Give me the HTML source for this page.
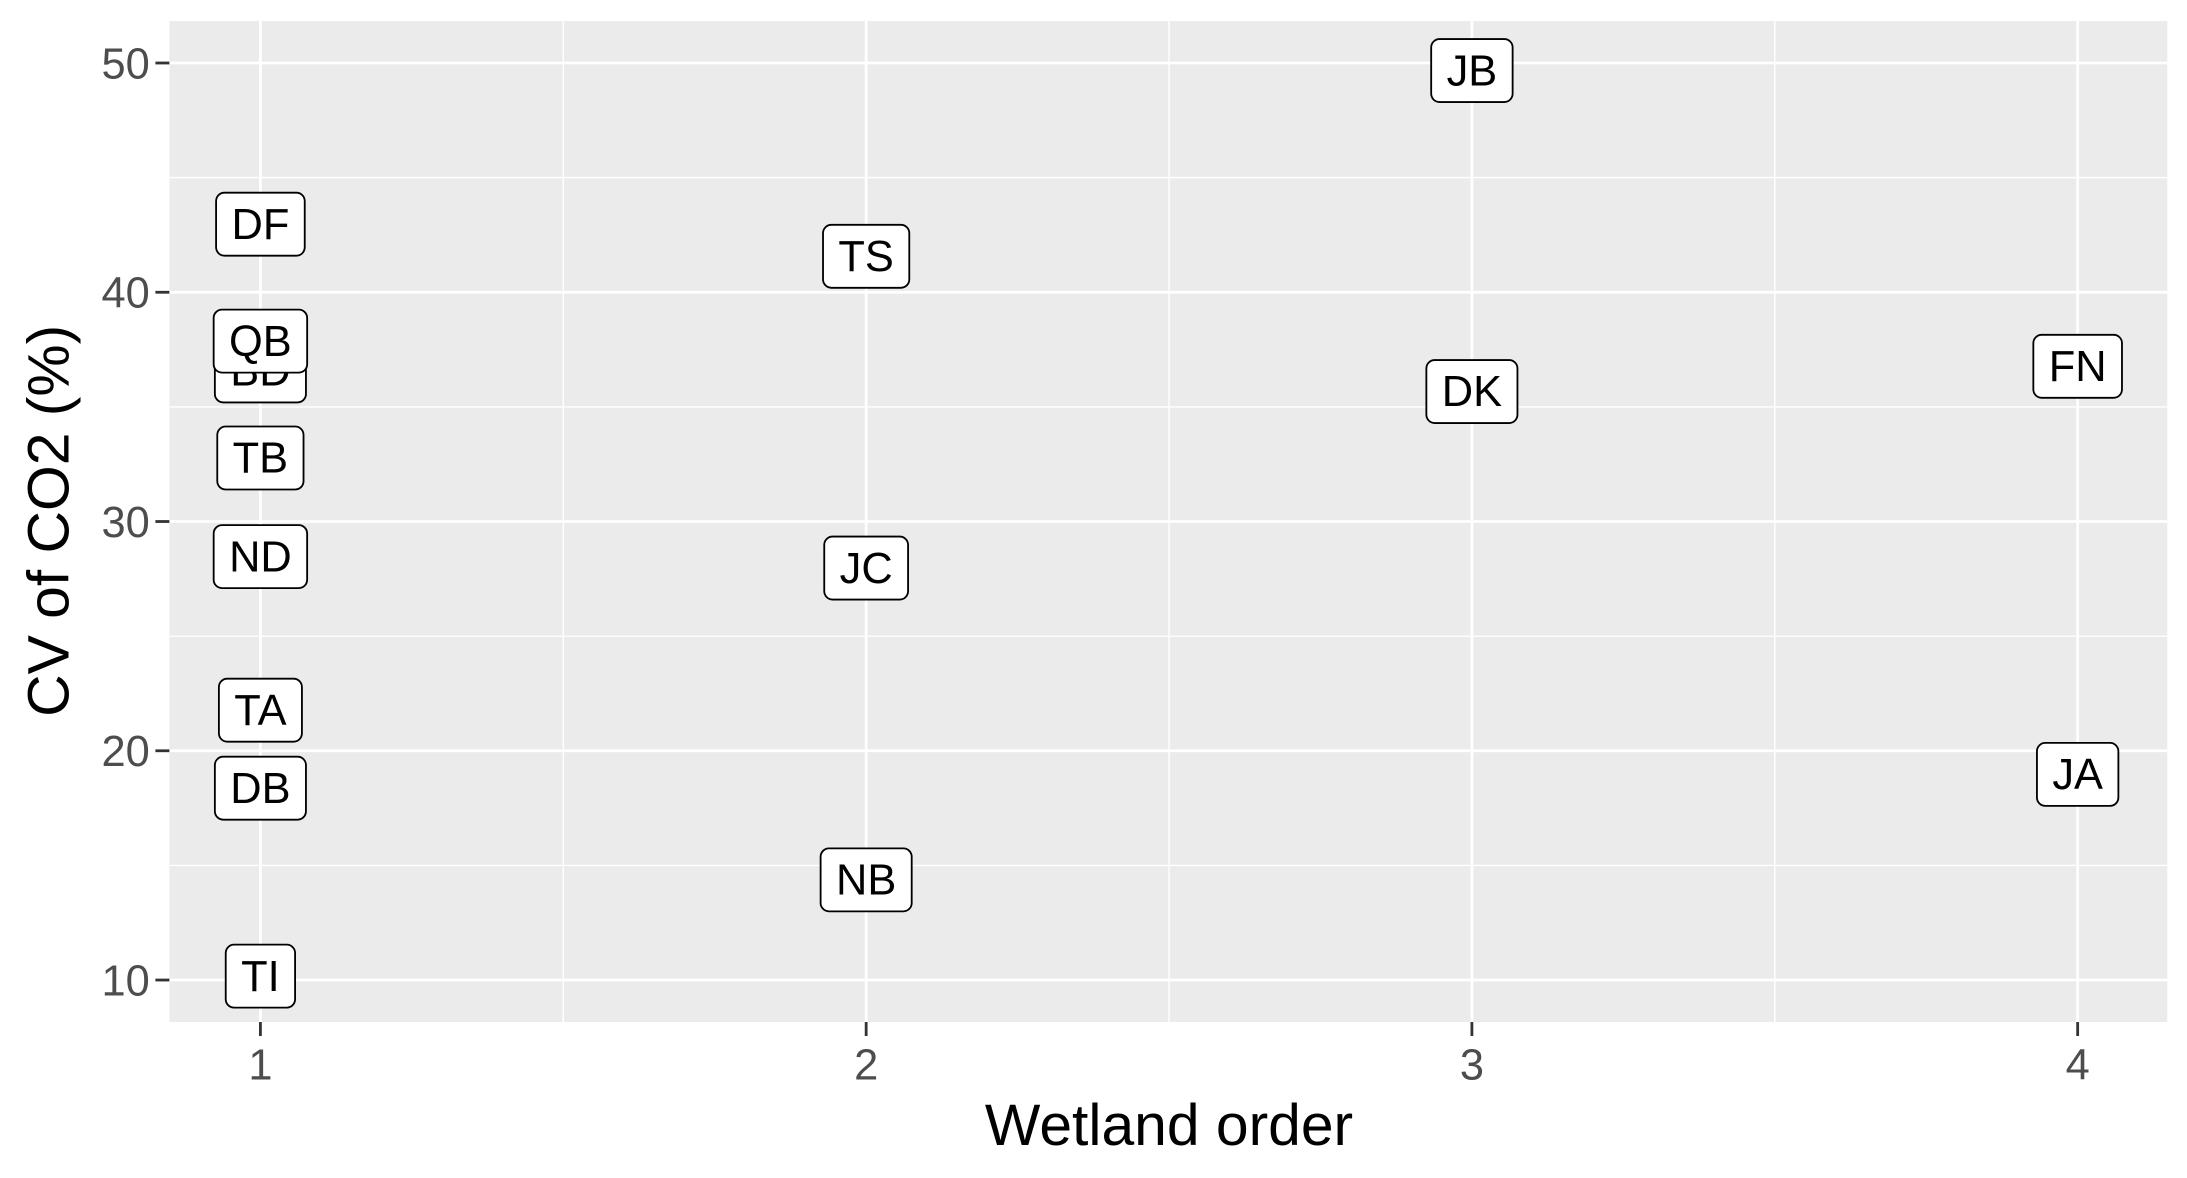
<!DOCTYPE html>
<html><head><meta charset="utf-8"><style>
html,body{margin:0;padding:0;background:#fff;}
svg{display:block;font-family:"Liberation Sans",Arial,sans-serif;}
</style></head><body>
<svg id="chart" width="2187" height="1178" viewBox="0 0 1562.1 841.4" xmlns="http://www.w3.org/2000/svg">
<rect x="121" y="15" width="1427" height="715" fill="#ebebeb"/>
<g id="grid"></g><g id="axes"></g><g id="labels"></g>
<text x="835" y="818" font-size="42" text-anchor="middle" fill="#000">Wetland order</text>
<text transform="translate(49,372) rotate(-90)" font-size="42" text-anchor="middle" fill="#000">CV of CO2 (%)</text>
</svg>
<script>
const sites = ["JB","DF","TS","BD","QB","TB","ND","JC","TA","DB","NB","TI","DK","FN","JA"];
const orders = [3,1,2,1,1,1,1,2,1,1,2,1,3,4,4];
const cvValues = [49.7,43.0,41.6,36.6,37.9,32.8,28.5,28.0,21.8,18.4,14.4,10.2,35.7,36.8,19.0];
const yTicks = [10,20,30,40,50];
const xTicks = [1,2,3,4];
const NS="http://www.w3.org/2000/svg";
const X0=121,X1=1548,Y0=15,Y1=730;
function sx(v){return 186+(v-1)*(1484-186)/3;}
function sy(v){return 700-(v-10)*(700-45)/40;}
function el(t,a,p){const e=document.createElementNS(NS,t);for(const k in a)e.setAttribute(k,a[k]);p.appendChild(e);return e;}
const grid=document.getElementById('grid'),axes=document.getElementById('axes'),lab=document.getElementById('labels');
yTicks.forEach((v,i)=>{
  const m=v+5;if(m<=52.5){const l=el('line',{x1:X0,x2:X1,y1:sy(m),y2:sy(m),stroke:'#fff','stroke-width':1},grid);}
  const g=el('line',{x1:X0,x2:X1,y1:sy(v),y2:sy(v),stroke:'#fff','stroke-width':2},grid);
  
  const t=el('line',{x1:111,x2:121,y1:sy(v),y2:sy(v),stroke:'#333','stroke-width':2},axes);
  
  const tx=el('text',{x:107,y:sy(v)+11,'font-size':31,'text-anchor':'end',fill:'#4d4d4d'},axes);
  tx.textContent=v;
  
});
xTicks.forEach((v,i)=>{
  if(i<xTicks.length-1){const l=el('line',{x1:sx(v+0.5),x2:sx(v+0.5),y1:Y0,y2:Y1,stroke:'#fff','stroke-width':1},grid);}
  const g=el('line',{x1:sx(v),x2:sx(v),y1:Y0,y2:Y1,stroke:'#fff','stroke-width':2},grid);
  
  const t=el('line',{x1:sx(v),x2:sx(v),y1:730,y2:740,stroke:'#333','stroke-width':2},axes);
  
  const tx=el('text',{x:sx(v),y:771,'font-size':31,'text-anchor':'middle',fill:'#4d4d4d'},axes);
  tx.textContent=v;
  
});
sites.forEach((s,i)=>{
  const cx=sx(orders[i]),cy=sy(cvValues[i]);
  const g=el('g',{},lab);
  
  
  const t=el('text',{x:cx,y:cy+11,'font-size':31,'text-anchor':'middle',fill:'#000'},g);
  t.textContent=s;
  const w=t.getComputedTextLength()+22;
  const r=el('rect',{x:cx-w/2,y:cy-22,width:w,height:45,rx:6,ry:6,fill:'#fff',stroke:'#000','stroke-width':1.3},g);
  g.insertBefore(r,t);
});
</script>
</body></html>
